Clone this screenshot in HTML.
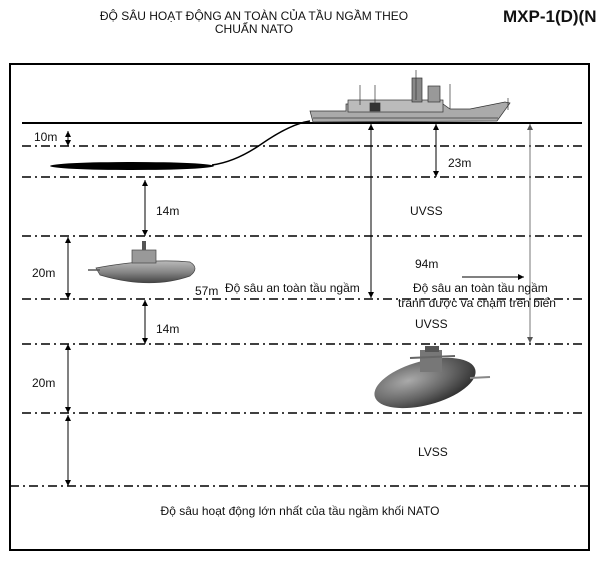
<!DOCTYPE html>
<html><head><meta charset="utf-8"><style>
body{margin:0;background:#fff;width:601px;height:566px;overflow:hidden}
svg{display:block}
text{font-family:"Liberation Sans",sans-serif;fill:#111}
</style></head><body>
<svg width="601" height="566" viewBox="0 0 601 566">
<defs>
<marker id="a" markerWidth="6" markerHeight="6" refX="6" refY="3" orient="auto-start-reverse" markerUnits="userSpaceOnUse" viewBox="0 0 6 6"><path d="M0,0 L6,3 L0,6z" fill="#000"/></marker>
<marker id="g" markerWidth="6" markerHeight="6" refX="6" refY="3" orient="auto-start-reverse" markerUnits="userSpaceOnUse" viewBox="0 0 6 6"><path d="M0,0 L6,3 L0,6z" fill="#555"/></marker>
<linearGradient id="sg" x1="0" y1="0" x2="0" y2="1"><stop offset="0" stop-color="#bbb"/><stop offset="0.5" stop-color="#888"/><stop offset="1" stop-color="#444"/></linearGradient>
<radialGradient id="sg2" cx="0.35" cy="0.35" r="0.7"><stop offset="0" stop-color="#aaa"/><stop offset="0.6" stop-color="#666"/><stop offset="1" stop-color="#333"/></radialGradient>
</defs>
<text x="254" y="20" font-size="12" text-anchor="middle">ĐỘ SÂU HOẠT ĐỘNG AN TOÀN CỦA TẦU NGẦM THEO</text>
<text x="254" y="33" font-size="12" text-anchor="middle">CHUẨN NATO</text>
<text x="503" y="22" font-size="17" font-weight="bold">MXP-1(D)(N</text>
<rect x="10" y="64" width="579" height="486" fill="none" stroke="#000" stroke-width="2"/>
<line x1="22" y1="123" x2="582" y2="123" stroke="#000" stroke-width="2"/>
<g stroke="#000" stroke-width="1.5" stroke-dasharray="9,4,2,4">
<line x1="22" y1="146" x2="582" y2="146"/>
<line x1="22" y1="177" x2="582" y2="177"/>
<line x1="22" y1="236" x2="582" y2="236"/>
<line x1="22" y1="299" x2="582" y2="299"/>
<line x1="22" y1="344" x2="582" y2="344"/>
<line x1="22" y1="413" x2="582" y2="413"/>
<line x1="10" y1="486" x2="589" y2="486"/>
</g>
<ellipse cx="132" cy="166" rx="82" ry="4" fill="#000"/>
<path d="M212,165 Q235,162 260,145 Q290,124 310,121" fill="none" stroke="#000" stroke-width="1.5"/>
<g stroke="#333" stroke-width="0.7">
<path d="M310,111 L346,111 L346,104 L443,104 L450,109 L470,109 L505,102 L510,103 L497,121 L313,122 Z" fill="#aaa"/>
<rect x="348" y="100" width="95" height="12" fill="#bbb"/>
<rect x="412" y="78" width="10" height="24" fill="#888"/>
<rect x="428" y="86" width="12" height="16" fill="#999"/>
<line x1="416" y1="70" x2="416" y2="100"/>
<line x1="360" y1="85" x2="360" y2="105"/>
<line x1="375" y1="85" x2="375" y2="105"/>
<line x1="450" y1="84" x2="450" y2="109"/>
<line x1="508" y1="98" x2="508" y2="110"/>
<rect x="370" y="103" width="10" height="8" fill="#333"/>
</g>
<line x1="313" y1="118" x2="498" y2="118" stroke="#555" stroke-width="1"/>
<path d="M96,268 Q150,258 190,262 Q200,268 190,276 Q150,290 100,275 Z" fill="url(#sg)" stroke="#444" stroke-width="0.7"/>
<rect x="132" y="250" width="24" height="13" fill="#999" stroke="#444" stroke-width="0.7"/>
<rect x="142" y="241" width="4" height="9" fill="#555"/>
<line x1="88" y1="270" x2="100" y2="270" stroke="#555" stroke-width="1.5"/>
<ellipse cx="425" cy="383" rx="52" ry="22" transform="rotate(-15 425 383)" fill="url(#sg2)"/>
<rect x="420" y="350" width="22" height="22" fill="#777"/>
<rect x="425" y="346" width="14" height="6" fill="#555"/>
<line x1="410" y1="358" x2="455" y2="356" stroke="#666" stroke-width="2"/>
<line x1="470" y1="378" x2="490" y2="377" stroke="#888" stroke-width="2"/>
<g stroke="#000" stroke-width="1" fill="none">
<line x1="68" y1="131" x2="68" y2="146" marker-start="url(#a)" marker-end="url(#a)"/>
<line x1="145" y1="180" x2="145" y2="236" marker-start="url(#a)" marker-end="url(#a)"/>
<line x1="68" y1="237" x2="68" y2="299" marker-start="url(#a)" marker-end="url(#a)"/>
<line x1="145" y1="300" x2="145" y2="344" marker-start="url(#a)" marker-end="url(#a)"/>
<line x1="68" y1="344" x2="68" y2="413" marker-start="url(#a)" marker-end="url(#a)"/>
<line x1="68" y1="415" x2="68" y2="486" marker-start="url(#a)" marker-end="url(#a)"/>
<line x1="371" y1="124" x2="371" y2="298" marker-start="url(#a)" marker-end="url(#a)"/>
<line x1="436" y1="124" x2="436" y2="177" marker-start="url(#a)" marker-end="url(#a)"/>
<line x1="530" y1="124" x2="530" y2="343" stroke="#777" marker-start="url(#g)" marker-end="url(#g)"/>
<line x1="462" y1="277" x2="524" y2="277" marker-end="url(#a)"/>
</g>
<g font-size="12">
<text x="34" y="141">10m</text>
<text x="448" y="167">23m</text>
<text x="156" y="215">14m</text>
<text x="410" y="215">UVSS</text>
<text x="32" y="277">20m</text>
<text x="415" y="268">94m</text>
<text x="195" y="295">57m</text>
<text x="225" y="292">Độ sâu an toàn tầu ngầm</text>
<text x="413" y="292">Độ sâu an toàn tầu ngầm</text>
<text x="398" y="307">tránh được va chạm trên biển</text>
<text x="156" y="333">14m</text>
<text x="415" y="328">UVSS</text>
<text x="32" y="387">20m</text>
<text x="418" y="456">LVSS</text>
<text x="300" y="515" text-anchor="middle">Độ sâu hoạt động lớn nhất của tầu ngầm khối NATO</text>
</g>
</svg>
</body></html>
